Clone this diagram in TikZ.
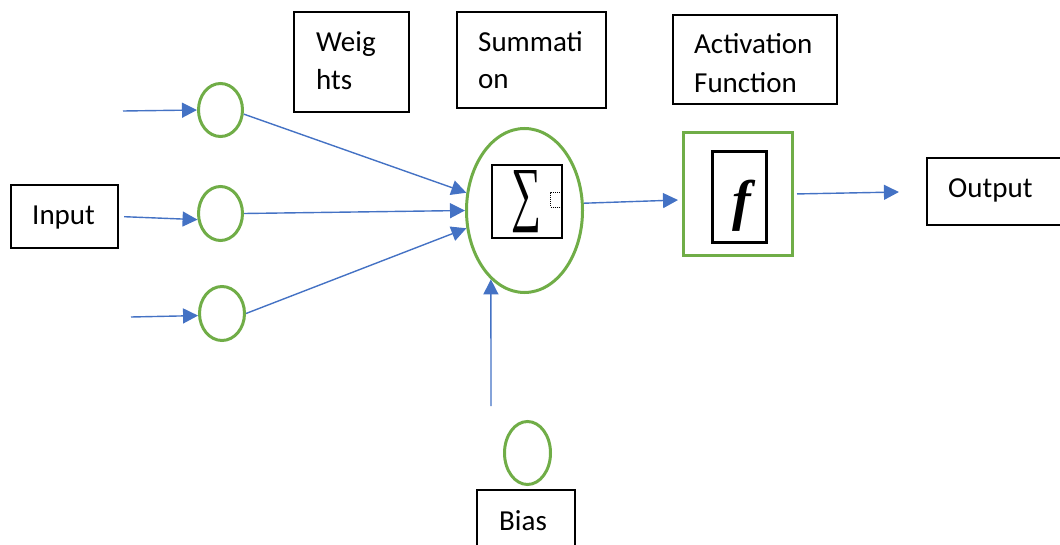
\documentclass[tikz,border=0pt]{standalone}
\usepackage{fontspec}
\setmainfont{Carlito}
\newfontfamily\ffont{Liberation Serif}
\usepackage{graphicx}
\usetikzlibrary{arrows.meta,shapes.geometric}
\definecolor{lblue}{HTML}{4472C4}
\definecolor{lgreen}{HTML}{70AD47}
\tikzset{
 lbl/.style={inner sep=0pt, anchor=base west, font=\fontsize{29}{35}\selectfont},
 bbox/.style={draw=black, line width=2.2pt, inner sep=0pt},
 gcirc/.style={draw=lgreen, line width=3pt, ellipse, inner sep=0pt},
 gbox/.style={draw=lgreen, line width=3pt, inner sep=0pt},
 conn/.style={draw=lblue, line width=1.4pt, -{Triangle[length=15pt,width=15pt]}},
}
\begin{document}
\begin{tikzpicture}[x=1pt,y=-1pt]
\useasboundingbox (0,0) rectangle (1060,545);
% label boxes
\node[bbox, minimum width=115pt, minimum height=100pt] (wbox) at (351.5,62) {};
\node[bbox, minimum width=149pt, minimum height=96pt] (sbox) at (531.5,60) {};
\node[bbox, minimum width=164pt, minimum height=89pt] (abox) at (755,59.5) {};
\node[bbox, minimum width=107pt, minimum height=63pt] (in) at (64.5,216.5) {};
\node[bbox, minimum width=137pt, minimum height=67pt] (out) at (995.5,191.5) {};
\node[bbox, minimum width=98pt, minimum height=70pt] (bbx) at (526,525) {};
% texts
\node[lbl] (t1) at (316,52) {Weig};
\node[lbl] (t2) at (316,90) {hts};
\node[lbl] (t3) at (478,52) {Summati};
\node[lbl] (t4) at (478,89) {on};
\node[lbl] (t5) at (694,54) {Activation};
\node[lbl] (t6) at (694,93) {Function};
\node[lbl] (t7) at (32,225) {Input};
\node[lbl] (t8) at (948,198) {Output};
\node[lbl] (t9) at (499,530) {Bias};
% weight circles
\node[gcirc, minimum width=44pt, minimum height=53pt] (w1) at (220.5,110) {};
\node[gcirc, minimum width=44pt, minimum height=54pt] (w2) at (220.5,213.5) {};
\node[gcirc, minimum width=45pt, minimum height=54pt] (w3) at (222,313.5) {};
\node[gcirc, minimum width=46pt, minimum height=63pt] (b) at (527.5,453) {};
% summation
\node[gcirc, minimum width=116pt, minimum height=164pt] (S) at (524.5,210.5) {};
\node[bbox, minimum width=70pt, minimum height=73pt] (sumbox) at (527,201.5) {};
\node[inner sep=0pt] (sig) at (526,202) {\resizebox{30pt}{47pt}{\ffont ∑}};
\node[draw, densely dotted, line width=1pt, inner sep=0pt, minimum width=11pt, minimum height=15pt] (ph) at (556,200) {};
% activation
\node[gbox, minimum width=109pt, minimum height=123pt] (F) at (738,194) {};
\node[bbox, minimum width=54pt, minimum height=91pt] (fbox) at (739.5,197) {};
\node[inner sep=0pt] (fn) at (742,206) {\ffont\bfseries\itshape\fontsize{56}{56}\selectfont f};
% connectors
\coordinate (a1) at (123,111);
\coordinate (a3) at (131,317);
\coordinate (bz) at (491,406);
\draw[conn] (a1) -- (w1.west);
\draw[conn, shorten <=5pt] (in.east) -- (w2.195);
\draw[conn] (a3) -- (w3.185);
\draw[conn] (w1.350) -- (S.163);
\draw[conn] (w2.east) -- (S.west);
\draw[conn] (w3.east) -- (S.197);
\draw[conn, shorten >=4pt] (S.7) -- (F.186);
\draw[conn, shorten <=3pt, shorten >=27pt] (F.east) -- (out.west);
\draw[conn] (bz) -- (S.244);
\end{tikzpicture}
\end{document}
